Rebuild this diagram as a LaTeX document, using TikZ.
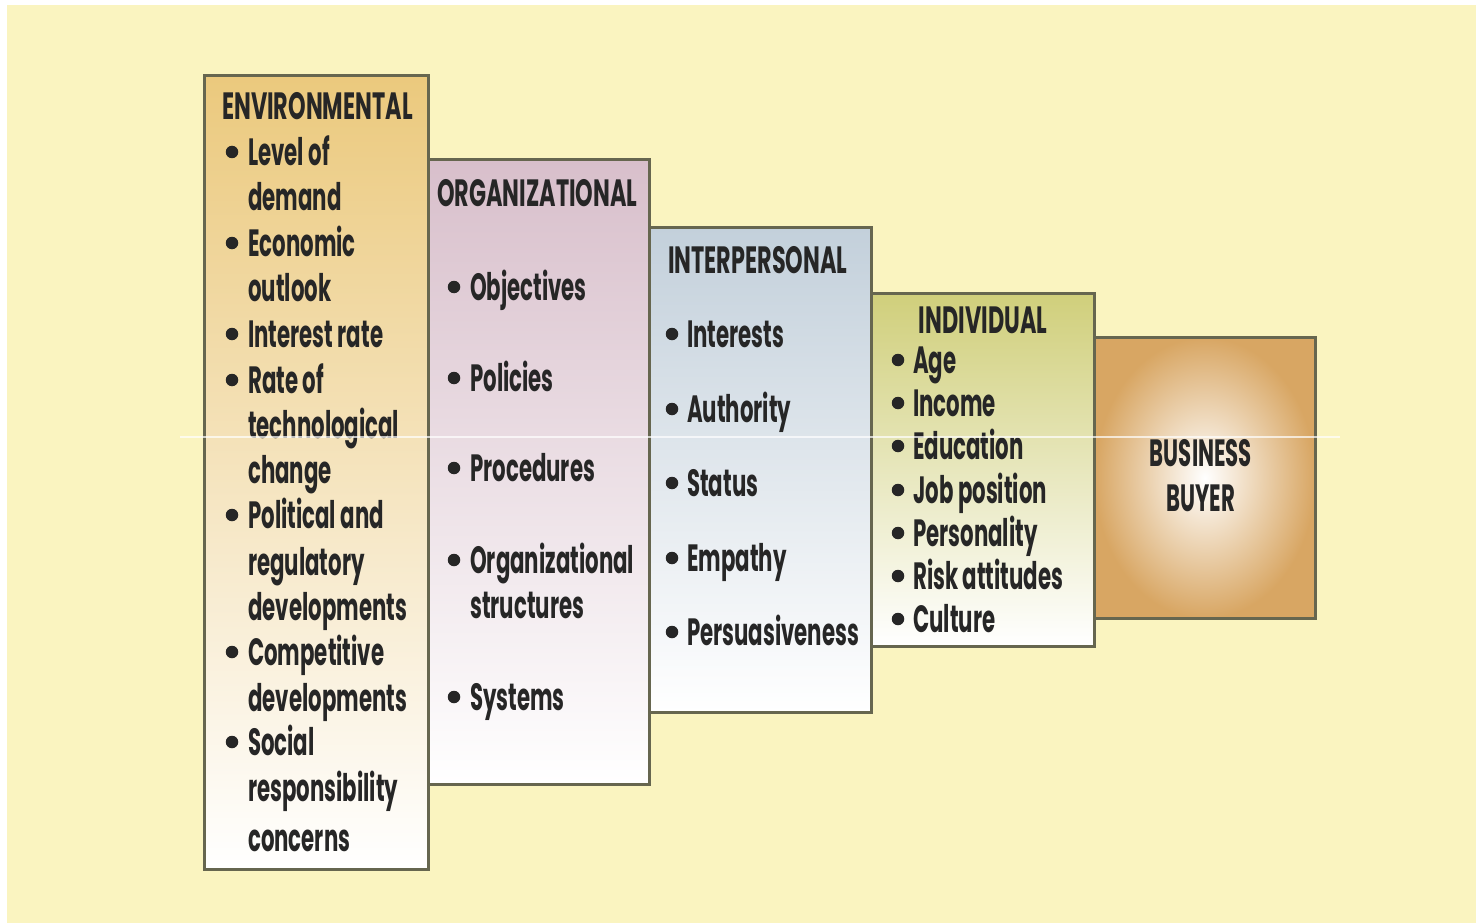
\documentclass[tikz,border=0pt]{standalone}
\usepackage{fontspec}
\setmainfont{Poppins}[FakeStretch=0.56]
\definecolor{paper}{HTML}{FAF4C0}
\definecolor{edge}{HTML}{66664F}
\definecolor{envtop}{HTML}{EBC97D}
\definecolor{orgtop}{HTML}{D8BFCB}
\definecolor{intop}{HTML}{C3D0DB}
\definecolor{indtop}{HTML}{D0CF7B}
\definecolor{buyer}{HTML}{D8A663}
% headings are set a little wider than the body text
\newcommand{\headtext}[1]{\scalebox{1.05}[1]{#1}}
\begin{document}
\begin{tikzpicture}[x=1pt,y=-1pt,
  panel/.style={draw=edge, line width=2.6pt, rectangle, anchor=north west, inner sep=0pt},
  label/.style={font=\fontsize{38}{38}\selectfont\bfseries, inner sep=0pt, text height=27pt, text depth=0pt, text=black!85},
  item/.style={label, anchor=west},
  dot/.style={circle, fill=black!85, inner sep=0pt, minimum size=12.5pt}]
  % white frame and paper
  \useasboundingbox (0,0) rectangle (1476,923);
  \fill[white] (0,0) rectangle (1476,923);
  \fill[paper] (7,5) rectangle (1476,923);

  % the five panels
  \node[panel, minimum width=224pt, minimum height=794pt, top color=envtop, bottom color=white] (env) at (203,74) {};
  \node[panel, minimum width=221pt, minimum height=625pt, top color=orgtop, bottom color=white] (org) at (427,158) {};
  \node[panel, minimum width=222pt, minimum height=485pt, top color=intop, bottom color=white] (inter) at (648,226) {};
  \node[panel, minimum width=223pt, minimum height=353pt, top color=indtop, bottom color=white] (indiv) at (870,292) {};
  \node[panel, minimum width=221pt, minimum height=281pt, inner color=white, outer color=buyer] (buy) at (1093,336) {};

  % headings
  \node[item] (envT) at (222,106) {\headtext{ENVIRONMENTAL}};
  \node[item] (orgT) at (437,193) {\headtext{ORGANIZATIONAL}};
  \node[item] (interT) at (668,260) {\headtext{INTERPERSONAL}};
  \node[label, anchor=center] (indivT) at (983,320) {\headtext{INDIVIDUAL}};
  \node[label, anchor=center] (buyA) at (1201,453) {BUSINESS};
  \node[label, anchor=center] (buyB) at (1201,498) {BUYER};

  % environmental factors
  \foreach \y/\t [count=\i] in {152/Level of, 197/demand, 243/Economic, 288/outlook,
      334/Interest rate, 380/Rate of, 425/technological, 470/change, 515/Political and,
      562/regulatory, 607/developments, 652/Competitive, 698/developments, 742/Social,
      788/responsibility, 838/concerns}
    \node[item] (env\i) at (248,\y) {\t};
  \foreach \y [count=\i] in {152,243,334,380,515,652,742}
    \node[dot] (envb\i) at (232,\y) {};

  % organizational factors
  \foreach \y/\t [count=\i] in {287/Objectives, 378/Policies, 468/Procedures,
      560/Organizational, 605/structures, 697/Systems}
    \node[item] (org\i) at (470,\y) {\t};
  \foreach \y [count=\i] in {287,378,468,560,697}
    \node[dot] (orgb\i) at (454,\y) {};

  % interpersonal factors
  \foreach \y/\t [count=\i] in {334/Interests, 409/Authority, 483/Status,
      558/Empathy, 632/Persuasiveness}
    \node[item] (inter\i) at (687,\y) {\t};
  \foreach \y [count=\i] in {334,409,483,558,632}
    \node[dot] (interb\i) at (672,\y) {};

  % individual factors
  \foreach \y/\t [count=\i] in {360/Age, 403/Income, 446/Education, 490/Job position,
      533/Personality, 576/Risk attitudes, 619/Culture}
    \node[item] (indiv\i) at (913,\y) {\t};
  \foreach \y [count=\i] in {360,403,446,490,533,576,619}
    \node[dot] (indivb\i) at (898,\y) {};

  % faint scan streak across the figure
  \draw[white, opacity=0.7, line width=1.5pt] (180,437) -- (1340,437);
\end{tikzpicture}
\end{document}
